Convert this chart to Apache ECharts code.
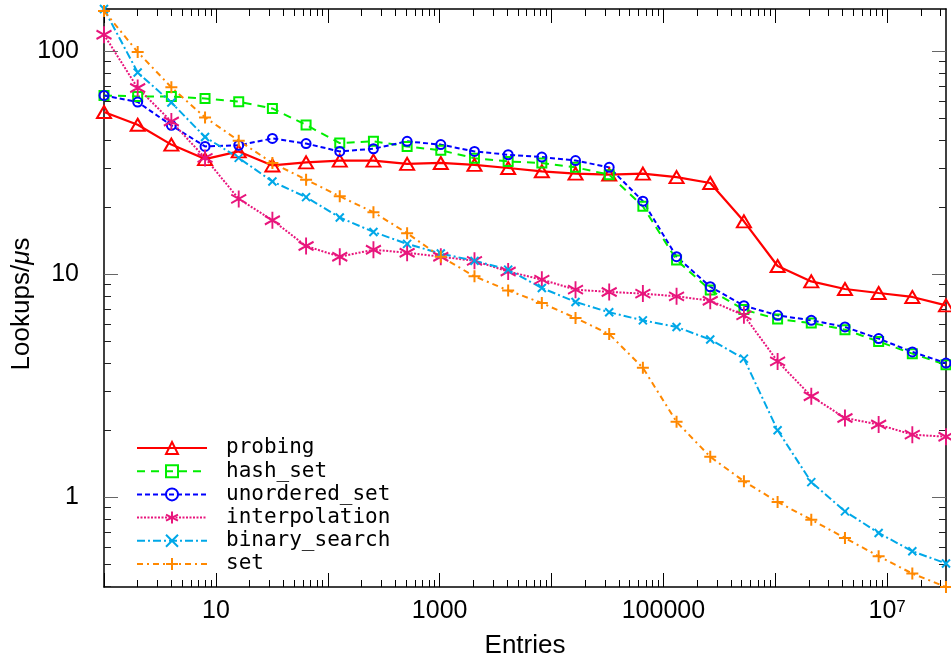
<!DOCTYPE html>
<html>
<head>
<meta charset="utf-8">
<title>Lookups per microsecond</title>
<script src="https://cdn.jsdelivr.net/npm/echarts@6/dist/echarts.min.js"></script>
<style>
  html, body { margin: 0; padding: 0; background: #fff; }
  #chart { width: 951px; height: 659px; }
</style>
</head>
<body>
<div id="chart"></div>
<script>
// number of entries (2^0 .. 2^25)
const entries = [1, 2, 4, 8, 16, 32, 64, 128, 256, 512, 1024, 2048, 4096, 8192,
  16384, 32768, 65536, 131072, 262144, 524288, 1048576, 2097152, 4194304,
  8388608, 16777216, 33554432];

// lookups per microsecond
const probing = [53.5, 46.9, 38.2, 32.9, 35.6, 30.8, 31.8, 32.4, 32.4, 31.3, 31.6, 31.0, 30.0,
  29.0, 28.3, 28.0, 28.3, 27.3, 25.7, 17.3, 10.9, 9.3, 8.6, 8.25, 7.92, 7.26];
const hashSet = [63.5, 62.8, 62.8, 61.5, 59.5, 55.5, 46.8, 38.8, 39.5, 37.5, 36.0, 33.2, 32.1,
  31.6, 30.2, 28.0, 20.2, 11.6, 8.5, 6.95, 6.3, 6.05, 5.65, 5.0, 4.41, 3.93];
const unorderedSet = [63.5, 59.3, 46.6, 37.5, 37.9, 40.7, 38.6, 35.6, 36.6, 39.5, 38.2, 35.6, 34.4,
  33.6, 32.4, 30.2, 21.3, 12.0, 8.8, 7.24, 6.55, 6.22, 5.81, 5.15, 4.49, 4.0];
const interpolation = [118.8, 68.5, 48.5, 33.3, 21.8, 17.5, 13.4, 12.0, 12.9, 12.5, 12.0, 11.5, 10.3,
  9.47, 8.54, 8.34, 8.2, 7.97, 7.62, 6.55, 4.07, 2.84, 2.27, 2.12, 1.91, 1.87];
const binarySearch = [155, 80.5, 59.0, 41.3, 33.3, 26.1, 22.2, 18.0, 15.5, 13.7, 12.4, 11.5, 10.5,
  8.69, 7.52, 6.76, 6.22, 5.81, 5.1, 4.19, 2.0, 1.17, 0.865, 0.692, 0.573, 0.505];
const setVals = [152, 99.4, 69.0, 50.6, 39.8, 31.6, 26.6, 22.4, 19.0, 15.3, 12.0, 9.8, 8.47,
  7.44, 6.37, 5.4, 3.81, 2.18, 1.52, 1.18, 0.953, 0.794, 0.657, 0.544, 0.455, 0.396];

// tick labels
const xLabelValues = [10, 1000, 100000, 10000000];
const yLabelValues = [1, 10, 100];

const allVals = [].concat(probing, hashSet, unorderedSet, interpolation, binarySearch, setVals);
const xMin = entries[0], xMax = entries[entries.length - 1];
const yMin = Math.min.apply(null, allVals), yMax = Math.max.apply(null, allVals);

// decade ticks and 2..9 minor ticks inside the range
function logTicks(lo, hi) {
  const major = [], minor = [];
  for (let d = Math.floor(Math.log10(lo)); d <= Math.ceil(Math.log10(hi)); d++) {
    const p = Math.pow(10, d);
    if (p >= lo && p <= hi) major.push(p);
    for (let k = 2; k <= 9; k++) {
      const v = k * p;
      if (v >= lo && v <= hi) minor.push(v);
    }
  }
  return {major, minor};
}
const xt = logTicks(xMin, xMax);
const yt = logTicks(yMin, yMax);

const numFont = 'Liberation Sans';

const chart = echarts.init(document.getElementById('chart'), null, {renderer: 'canvas'});

function xAxisDef(pos, ticks, len, main) {
  return {
    type: 'log', logBase: 10, position: pos, min: xMin, max: xMax,
    axisLine: {show: main, onZero: false, lineStyle: {color: '#000', width: 1.5}},
    axisTick: {show: true, inside: true, length: len, customValues: ticks,
      lineStyle: {color: '#000', width: 1}},
    axisLabel: {show: false},
    splitLine: {show: false}
  };
}
function yAxisDef(pos, ticks, len, main, col) {
  return {
    type: 'log', logBase: 10, position: pos, min: yMin, max: yMax,
    axisLine: {show: main, onZero: false, lineStyle: {color: '#000', width: 1.5}},
    axisTick: {show: true, inside: true, length: len, customValues: ticks,
      lineStyle: {color: col, width: 1}},
    axisLabel: {show: false},
    splitLine: {show: false}
  };
}

const xBottom = xAxisDef('bottom', xt.major, 14, true);
xBottom.axisLabel = {
  show: true, customValues: xLabelValues, margin: 12,
  fontFamily: numFont, fontSize: 25, color: '#000',
  formatter: function (v) {
    const e = Math.round(Math.log10(v));
    if (e >= 7) return '{b|10}{s|' + e + '}';
    return '{b|' + Math.round(v) + '}';
  },
  rich: {
    b: {fontFamily: numFont, fontSize: 25, color: '#000'},
    s: {fontFamily: numFont, fontSize: 17, color: '#000', verticalAlign: 'top', padding: [0, 0, 8, 0]}
  }
};
xBottom.name = 'Entries';
xBottom.nameLocation = 'middle';
xBottom.nameGap = 46;
xBottom.nameMoveOverlap = false;
xBottom.nameTextStyle = {fontFamily: numFont, fontSize: 26, color: '#000'};

const yLeft = yAxisDef('left', yt.major, 14, true, '#666');
yLeft.axisLabel = {
  show: true, customValues: yLabelValues, margin: 25,
  fontFamily: numFont, fontSize: 25, color: '#000',
  formatter: function (v) { return String(Math.round(v)); }
};
yLeft.name = '{n|Lookups/}{i|μ}{n|s}';
yLeft.nameLocation = 'middle';
yLeft.nameRotate = 90;
yLeft.nameGap = 69;
yLeft.nameMoveOverlap = false;
yLeft.nameTextStyle = {
  padding: [0, 12, 0, 0],
  rich: {
    n: {fontFamily: numFont, fontSize: 26, color: '#000'},
    i: {fontFamily: numFont, fontSize: 26, color: '#000', fontStyle: 'italic'}
  }
};

// open / stroked markers
const starPath = 'path://M0,-10L0,10M-8.66,-5L8.66,5M-8.66,5L8.66,-5';
const crossPath = 'path://M-1,-1L1,1M-1,1L1,-1';
const plusPath = 'path://M0,-1L0,1M-1,0L1,0';

function mkSeries(name, vals, color, symbol, size, dash, width) {
  return {
    name: name, type: 'line', xAxisIndex: 0, yAxisIndex: 0,
    data: entries.map((x, i) => [x, vals[i]]),
    symbol: symbol, symbolSize: size, showSymbol: true, clip: false,
    lineStyle: {color: color, width: width, type: dash},
    itemStyle: {color: 'rgba(0,0,0,0)', borderColor: color, borderWidth: 2},
    emphasis: {disabled: true}
  };
}

const option = {
  animation: false,
  backgroundColor: '#fff',
  grid: {left: 104, right: 5, top: 9, bottom: 72, containLabel: false, outerBoundsMode: 'none'},
  xAxis: [
    xBottom,
    xAxisDef('bottom', xt.minor, 7, false),
    xAxisDef('top', xt.major, 14, true),
    xAxisDef('top', xt.minor, 7, false)
  ],
  yAxis: [
    yLeft,
    yAxisDef('left', yt.minor, 7, false, '#222'),
    yAxisDef('right', yt.major, 14, true, '#666'),
    yAxisDef('right', yt.minor, 7, false, '#222')
  ],
  legend: {
    show: true, orient: 'vertical', left: 131, top: 432.5,
    itemWidth: 70, itemHeight: 15, itemGap: 2.2,
    textStyle: {fontFamily: 'DejaVu Sans Mono', fontSize: 21, color: '#000',
      lineHeight: 21, padding: [0, 0, 0, 14]},
    data: ['probing', 'hash_set', 'unordered_set', 'interpolation', 'binary_search', 'set']
  },
  series: [
    mkSeries('probing', probing, '#ff0000', 'triangle', [14, 12], 'solid', 2.2),
    mkSeries('hash_set', hashSet, '#00ee00', 'rect', 9, [8, 6], 2),
    mkSeries('unordered_set', unorderedSet, '#0000ff', 'circle', 9, [5, 3], 2),
    mkSeries('interpolation', interpolation, '#e8157c', starPath, [15, 17], [2, 1.5], 2),
    mkSeries('binary_search', binarySearch, '#00a8e8', crossPath, 8, [8, 3, 2, 3], 2),
    mkSeries('set', setVals, '#ff8800', plusPath, 12, [6, 4, 2, 4], 2)
  ]
};

chart.setOption(option);
</script>
</body>
</html>
